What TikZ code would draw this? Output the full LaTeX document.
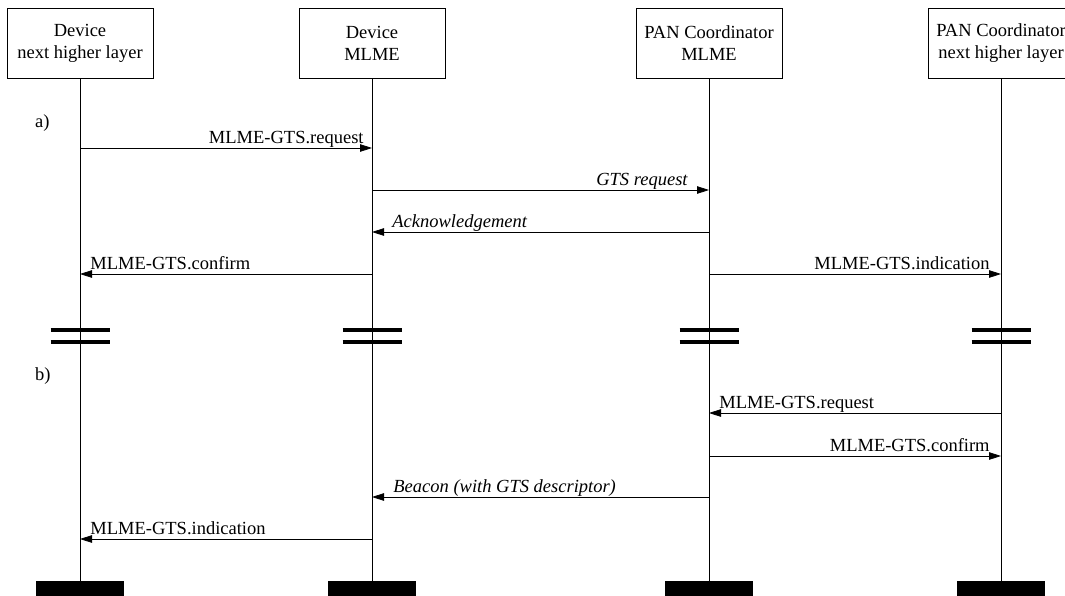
\documentclass[tikz,border=0pt]{standalone}
\usepackage{fontspec}
\setmainfont{Liberation Serif}
\usetikzlibrary{arrows.meta}
\begin{document}
\begin{tikzpicture}[x=1pt,y=-1pt,
  hdr/.style={draw,line width=0.8pt,minimum width=146pt,minimum height=70pt,align=center,inner sep=0pt,font=\fontsize{18.5}{22}\selectfont},
  endblk/.style={fill=black,minimum width=88pt,minimum height=20pt,inner sep=0pt,anchor=north},
  life/.style={line width=0.8pt},
  msg/.style={line width=0.8pt,-{Triangle[length=12pt,width=7.5pt]}},
  txt/.style={font=\fontsize{18.5}{22}\selectfont,inner sep=0pt},
  brk/.style={line width=4pt}
]
\useasboundingbox (0,0) rectangle (1065,595);
\begin{scope}
\clip (0,0) rectangle (1065,595);
% headers
\node[hdr] (h1) at (80,43) {Device\\next higher layer};
\node[hdr] (h2) at (372,43) {Device\\MLME};
\node[hdr] (h3) at (709,43) {PAN Coordinator\\MLME};
\node[hdr] (h4) at (1001,43) {PAN Coordinator\\next higher layer};
% end blocks
\node[endblk] (e1) at (80,581) {};
\node[endblk] (e2) at (372,581) {};
\node[endblk] (e3) at (709,581) {};
\node[endblk] (e4) at (1001,581) {};
% lifelines
\foreach \i in {1,2,3,4} \draw[life] (h\i.south) -- (e\i.north);
% breaks
\foreach \x in {80,372,709,1001} {
  \draw[brk] (\x-29.5,330) -- (\x+29.5,330);
  \draw[brk] (\x-29.5,342) -- (\x+29.5,342);
}
% section labels
\node[txt,anchor=base west] (la) at (35,127) {a)};
\node[txt,anchor=base west] (lb) at (35,380) {b)};
% message coordinates
\coordinate (m1a) at (80,148);  \coordinate (m1b) at (372,148);
\coordinate (m2a) at (372,190); \coordinate (m2b) at (709,190);
\coordinate (m3a) at (709,232); \coordinate (m3b) at (372,232);
\coordinate (m4a) at (372,274); \coordinate (m4b) at (80,274);
\coordinate (m5a) at (709,274); \coordinate (m5b) at (1001,274);
\coordinate (m6a) at (1001,413); \coordinate (m6b) at (709,413);
\coordinate (m7a) at (709,456); \coordinate (m7b) at (1001,456);
\coordinate (m8a) at (709,497); \coordinate (m8b) at (372,497);
\coordinate (m9a) at (372,539); \coordinate (m9b) at (80,539);
% messages
\draw[msg] (m1a) -- (m1b) node[txt,at end,anchor=base east,xshift=-8pt,yshift=5pt] {MLME-GTS.request};
\draw[msg] (m2a) -- (m2b) node[txt,at end,anchor=base east,xshift=-21pt,yshift=5pt] {\itshape GTS request};
\draw[msg] (m3a) -- (m3b) node[txt,at end,anchor=base west,xshift=20pt,yshift=5pt] {\itshape Acknowledgement};
\draw[msg] (m4a) -- (m4b) node[txt,at end,anchor=base west,xshift=10pt,yshift=5pt] {MLME-GTS.confirm};
\draw[msg] (m5a) -- (m5b) node[txt,at end,anchor=base east,xshift=-11pt,yshift=5pt] {MLME-GTS.indication};
\draw[msg] (m6a) -- (m6b) node[txt,at end,anchor=base west,xshift=10pt,yshift=5pt] {MLME-GTS.request};
\draw[msg] (m7a) -- (m7b) node[txt,at end,anchor=base east,xshift=-11pt,yshift=5pt] {MLME-GTS.confirm};
\draw[msg] (m8a) -- (m8b) node[txt,at end,anchor=base west,xshift=21pt,yshift=5pt] {\itshape Beacon (with GTS descriptor)};
\draw[msg] (m9a) -- (m9b) node[txt,at end,anchor=base west,xshift=10pt,yshift=5pt] {MLME-GTS.indication};
\end{scope}
\end{tikzpicture}
\end{document}
